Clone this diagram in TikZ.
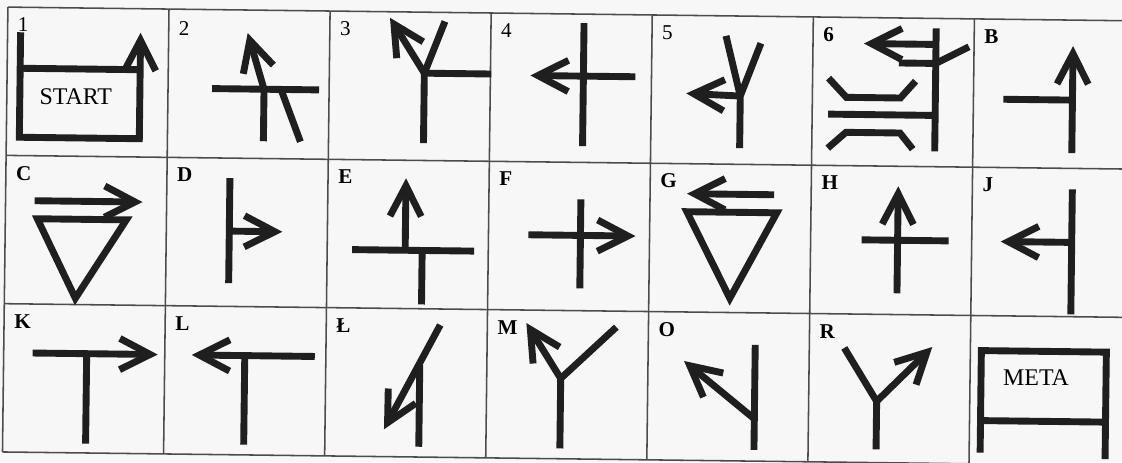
\documentclass[tikz,border=0pt]{standalone}
\usepackage{fontspec}
\setmainfont{Liberation Serif}
\usepackage{tikz}
\usetikzlibrary{arrows.meta}
\tikzset{
  roadline/.style={line width=4.9pt, draw=black!88},
  roadarrow/.style={roadline, -{Straight Barb[length=7.6mm, width=7.8mm, sharp]}},
  gridline/.style={line width=1.1pt, draw=black!70},
  celltag/.style={anchor=base west, inner sep=0pt, font=\fontsize{15}{17}\selectfont\bfseries},
  cellnum/.style={celltag, font=\fontsize{15}{17}\selectfont},
  boxtext/.style={inner sep=0pt, font=\fontsize{17}{19}\selectfont}
}

\begin{document}
\begin{tikzpicture}[x=0.025cm, y=-0.025cm]
  \path[use as bounding box, fill=black!3] (0,0) rectangle (1122,462);
  \clip (0,0) rectangle (1122,462);
  \begin{scope}[rotate=-0.7]
    % grid
    \foreach \i in {0,...,7}
      \draw[gridline] (8+161.1*\i,7) -- (8+161.1*\i,451.9);
    \foreach \j in {0,...,3}
      \draw[gridline] (8,7+148.3*\j) -- (1135.7,7+148.3*\j);

    % first row
    \begin{scope}[shift={(8,7)}]
      \node[cellnum] (tag1) at (10,24.5) {1};
      \draw[roadarrow] (13,25) -- (13,130) -- (133,130) -- (133,24);
      \draw[roadline] (13,61) -- (133,61);
      \node[boxtext] (start) at (69,89) {START};
    \end{scope}
    \begin{scope}[shift={(169.1,7)}]
      \node[cellnum] (tag2) at (10,26) {2};
      \draw[roadline] (44,79) -- (151,79);
      \draw[roadarrow] (96,131) -- (96,79) -- (79,23);
      \draw[roadline] (113,79) -- (133,131);
    \end{scope}
    \begin{scope}[shift={(330.2,7)}]
      \node[cellnum] (tag3) at (10,24.5) {3};
      \draw[roadline] (95,131) -- (95,61) -- (162,61);
      \draw[roadarrow] (95,61) -- (60,6);
      \draw[roadline] (95,61) -- (115,9);
    \end{scope}
    \begin{scope}[shift={(491.3,7)}]
      \node[cellnum] (tag4) at (10,24.5) {4};
      \draw[roadline] (93,9) -- (93,132);
      \draw[roadarrow] (145,62) -- (40,62);
    \end{scope}
    \begin{scope}[shift={(652.4,7)}]
      \node[cellnum] (tag5) at (10,24.5) {5};
      \draw[roadline] (89,132) -- (89,80) -- (109,27);
      \draw[roadline] (89,80) -- (74,20);
      \draw[roadarrow] (89,80) -- (35,78);
    \end{scope}
    \begin{scope}[shift={(813.5,7)}]
      \node[celltag] (tag6) at (10,24.5) {6};
      \draw[roadline] (123,10) -- (123,133);
      \draw[roadarrow] (123,26) -- (51,26);
      \draw[roadline] (86,45) -- (123,45) -- (156,28);
      \draw[roadline] (16,61) -- (34,80) -- (88,80) -- (103,63);
      \draw[roadline] (16,97) -- (123,97);
      \draw[roadline] (16,131) -- (34,115) -- (88,115) -- (101,131);
    \end{scope}
    \begin{scope}[shift={(974.6,7)}]
      \node[celltag] (tagB) at (10,24.5) {B};
      \draw[roadarrow] (99,133) -- (99,26);
      \draw[roadline] (30,80) -- (99,80);
    \end{scope}

    % second row
    \begin{scope}[shift={(8,155.3)}]
      \node[celltag] (tagC) at (10,24.5) {C};
      \draw[roadarrow] (29,45) -- (137,45);
      \draw[roadline] (32,63) -- (121,63) -- (71,142) -- cycle;
    \end{scope}
    \begin{scope}[shift={(169.1,155.3)}]
      \node[celltag] (tagD) at (10,24.5) {D};
      \draw[roadline] (63,20) -- (63,125);
      \draw[roadarrow] (63,73) -- (116,73);
    \end{scope}
    \begin{scope}[shift={(330.2,155.3)}]
      \node[celltag] (tagE) at (10,24.5) {E};
      \draw[roadline] (25,90) -- (147,90);
      \draw[roadarrow] (78,90) -- (78,18);
      \draw[roadline] (95,90) -- (95,144);
    \end{scope}
    \begin{scope}[shift={(491.3,155.3)}]
      \node[celltag] (tagF) at (10,24.5) {F};
      \draw[roadline] (92,37) -- (92,126);
      \draw[roadarrow] (40,73) -- (147,73);
    \end{scope}
    \begin{scope}[shift={(652.4,155.3)}]
      \node[celltag] (tagG) at (10,24.5) {G};
      \draw[roadarrow] (124,30) -- (37,30);
      \draw[roadline] (37,48) -- (127,48) -- (81,134) -- cycle;
    \end{scope}
    \begin{scope}[shift={(813.5,155.3)}]
      \node[celltag] (tagH) at (10,24.5) {H};
      \draw[roadline] (51,74) -- (138,74);
      \draw[roadarrow] (87,127) -- (87,20);
    \end{scope}
    \begin{scope}[shift={(974.6,155.3)}]
      \node[celltag] (tagJ) at (10,24.5) {J};
      \draw[roadline] (100,21) -- (100,146);
      \draw[roadarrow] (100,74) -- (29,74);
    \end{scope}

    % third row
    \begin{scope}[shift={(8,303.6)}]
      \node[celltag] (tagK) at (10,24.5) {K};
      \draw[roadarrow] (29,49) -- (154,49);
      \draw[roadline] (83,49) -- (83,139);
    \end{scope}
    \begin{scope}[shift={(169.1,303.6)}]
      \node[celltag] (tagL) at (10,24.5) {L};
      \draw[roadarrow] (150,49) -- (27,49);
      \draw[roadline] (80,49) -- (80,138);
    \end{scope}
    \begin{scope}[shift={(330.2,303.6)}]
      \node[celltag] (tagLstroke) at (10,24.5) {Ł};
      \draw[roadarrow] (114,16) -- (59,121);
      \draw[roadline] (94,56) -- (94,138);
    \end{scope}
    \begin{scope}[shift={(491.3,303.6)}]
      \node[celltag] (tagM) at (10,24.5) {M};
      \draw[roadline] (74,138) -- (74,68) -- (129,16);
      \draw[roadarrow] (74,68) -- (39,13);
    \end{scope}
    \begin{scope}[shift={(652.4,303.6)}]
      \node[celltag] (tagO) at (10,24.5) {O};
      \draw[roadline] (107,32) -- (107,137);
      \draw[roadarrow] (107,106) -- (36,49);
    \end{scope}
    \begin{scope}[shift={(813.5,303.6)}]
      \node[celltag] (tagR) at (10,24.5) {R};
      \draw[roadline] (68,135) -- (68,87) -- (35,34);
      \draw[roadarrow] (68,87) -- (123,32);
    \end{scope}
    \begin{scope}[shift={(974.6,303.6)}]
      \draw[roadline] (11,137) -- (11,35) -- (136,35) -- (136,142);
      \draw[roadline] (11,105) -- (136,105);
      \node[boxtext] (meta) at (66,61) {META};
    \end{scope}
  \end{scope}
\end{tikzpicture}
\end{document}
